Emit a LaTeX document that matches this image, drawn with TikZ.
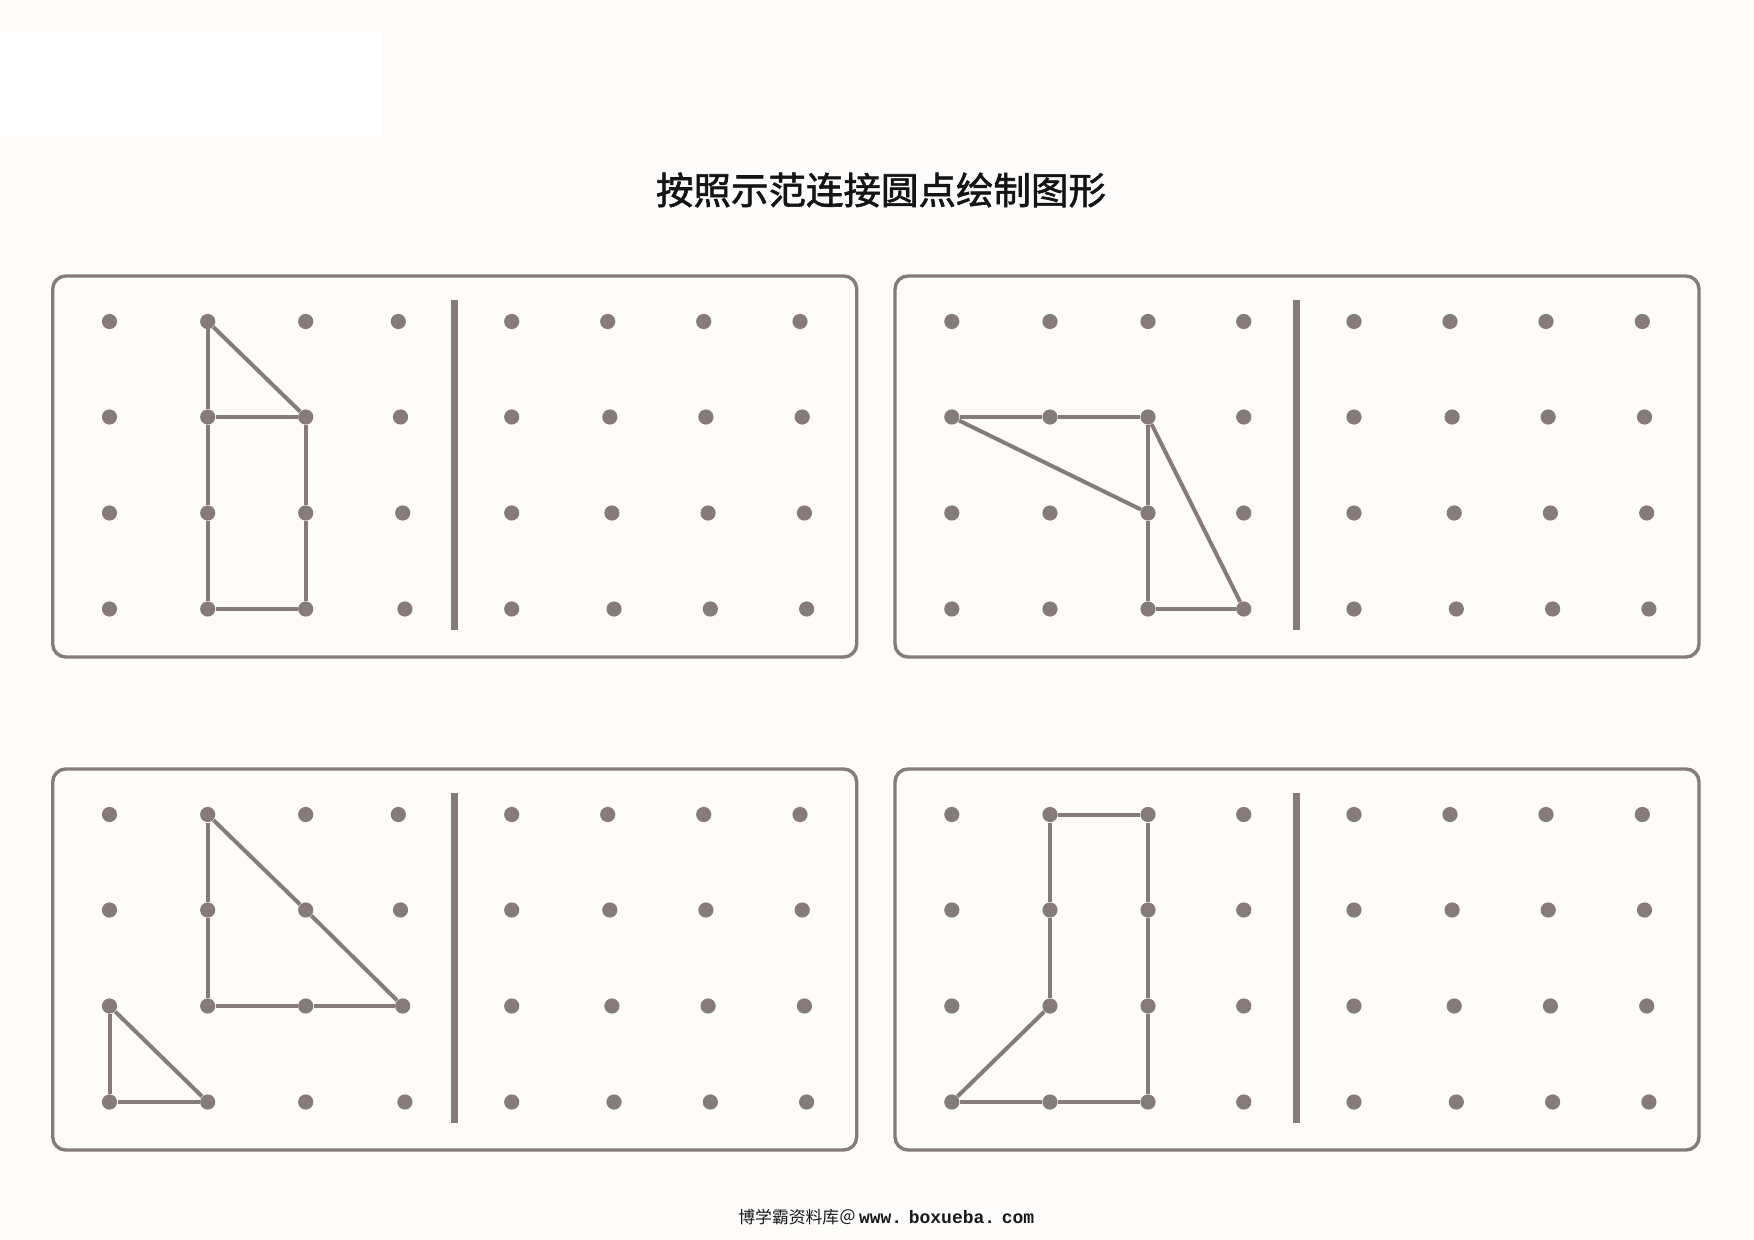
\documentclass[tikz,border=0pt]{standalone}
\usepackage{fontspec}
\newfontfamily\cjk{Noto Sans CJK SC}
\newfontfamily\cjkbold{Noto Sans CJK SC}[FakeBold=1.6]
\newfontfamily\mono{Liberation Mono}
\definecolor{peg}{HTML}{857B7A}
\definecolor{paper}{HTML}{FDFCFA}
\newcommand{\pegboard}[5]{%
  \draw[boardbox] (#2,#3) rectangle ++(804,381);
  \draw[divider] (#2+401.6,#3+24) -- (#2+401.6,#3+354);
  \foreach \r/\yy in {1/45.5,2/141,3/237,4/333}{
    \node[dot] (#1-\r-1) at (#2+56.8,#3+\yy) {};
    \node[dot] (#1-\r-2) at (#2+155,#3+\yy) {};
    \node[dot] (#1-\r-3) at (#2+253,#3+\yy) {};
    \node[dot] (#1-\r-4) at (#2+#4+#5*\r-#5,#3+\yy) {};
    \node[dot] (#1-\r-5) at (#2+459,#3+\yy) {};
    \node[dot] (#1-\r-6) at (#2+555+2.1*\r-2.1,#3+\yy) {};
    \node[dot] (#1-\r-7) at (#2+651+2.2*\r-2.2,#3+\yy) {};
    \node[dot] (#1-\r-8) at (#2+747.3+2.2*\r-2.2,#3+\yy) {};
  }%
}
\begin{document}
\begin{tikzpicture}[x=0.5pt,y=-0.5pt,
  dot/.style={circle,fill=peg,inner sep=0pt,minimum size=7.6pt},
  boardbox/.style={draw=peg,line width=1.7pt,rounded corners=6.5pt},
  divider/.style={draw=peg,line width=3.5pt},
  figline/.style={draw=peg,line width=2pt}]
\fill[paper] (0,0) rectangle (1754,1240);
\fill[white] (0,32) rectangle (382,135);
\useasboundingbox (0,0) rectangle (1754,1240);

\node[font=\cjkbold\fontsize{18.75pt}{21pt}\selectfont, text=black!92] (title) at (881,190) {按照示范连接圆点绘制图形};

\pegboard{A}{52.7}{276}{345.6}{2.2}
\pegboard{B}{895}{276}{348.7}{0}
\pegboard{C}{52.7}{769}{345.6}{2.2}
\pegboard{D}{895}{769}{348.7}{0}

% board A
\draw[figline] (A-1-2) -- (A-2-3);
\draw[figline] (A-1-2) -- (A-2-2) -- (A-3-2) -- (A-4-2);
\draw[figline] (A-2-2) -- (A-2-3);
\draw[figline] (A-2-3) -- (A-3-3) -- (A-4-3);
\draw[figline] (A-4-2) -- (A-4-3);
% board B
\draw[figline] (B-2-1) -- (B-2-2) -- (B-2-3);
\draw[figline] (B-2-1) -- (B-3-3);
\draw[figline] (B-2-3) -- (B-3-3) -- (B-4-3);
\draw[figline] (B-2-3) -- (B-4-4);
\draw[figline] (B-4-3) -- (B-4-4);
% board C
\draw[figline] (C-1-2) -- (C-2-2) -- (C-3-2);
\draw[figline] (C-3-2) -- (C-3-3) -- (C-3-4);
\draw[figline] (C-1-2) -- (C-2-3) -- (C-3-4);
\draw[figline] (C-3-1) -- (C-4-1) -- (C-4-2);
\draw[figline] (C-3-1) -- (C-4-2);
% board D
\draw[figline] (D-1-2) -- (D-1-3);
\draw[figline] (D-1-2) -- (D-2-2) -- (D-3-2);
\draw[figline] (D-1-3) -- (D-2-3) -- (D-3-3) -- (D-4-3);
\draw[figline] (D-3-2) -- (D-4-1);
\draw[figline] (D-4-1) -- (D-4-2) -- (D-4-3);

\node[anchor=west, inner sep=0pt, text=black!90] (footer) at (738,1217)
  {{\cjk\fontsize{8.4pt}{10pt}\selectfont 博学霸资料库＠}\hspace{1.5pt}{\mono\bfseries\fontsize{9pt}{10pt}\selectfont\spaceskip=1.5pt www. boxueba. com}};
\end{tikzpicture}
\end{document}
